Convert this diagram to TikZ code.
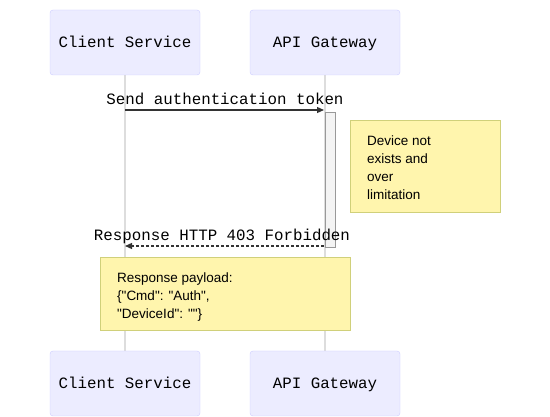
\documentclass[tikz,border=0pt]{standalone}
\usepackage{fontspec}
\setmainfont{Liberation Sans}
\setmonofont{Liberation Mono}
\usetikzlibrary{arrows.meta}
\definecolor{actfill}{HTML}{ECECFF}
\definecolor{actline}{HTML}{CCCCFF}
\definecolor{lifeline}{HTML}{DDDDDD}
\definecolor{notefill}{HTML}{FFF5AD}
\definecolor{noteline}{HTML}{D0D07A}
\definecolor{msgline}{HTML}{333333}
\definecolor{actvfill}{HTML}{F4F4F4}
\definecolor{actvline}{HTML}{999999}
\newcommand{\qq}{\textquotedbl}
\tikzset{
  actor/.style={draw=actline, fill=actfill, rounded corners=3pt, minimum width=150pt, minimum height=65pt, inner sep=0pt, text height=13pt, text depth=2pt, font=\ttfamily\fontsize{15.8}{18}\selectfont},
  note/.style={draw=noteline, fill=notefill, line width=0.8pt},
  notetext/.style={anchor=north west, align=left, inner sep=0pt, font=\fontsize{13.5}{18}\selectfont},
  life/.style={draw=lifeline, line width=1.5pt},
  msg/.style={draw=msgline, line width=1.2pt, -{Triangle[length=7pt,width=6pt]}},
  msgtext/.style={font=\ttfamily\fontsize{15.8}{18}\selectfont, inner sep=0pt},
  actv/.style={draw=actvline, fill=actvfill, line width=0.8pt}
}
\begin{document}
\begin{tikzpicture}[x=1pt,y=-1pt]
\useasboundingbox (0,0) rectangle (550,417);
% lifelines
\coordinate (c1) at (125,75);
\coordinate (c2) at (125,351);
\coordinate (g1) at (325,75);
\coordinate (g2) at (325,351);
\draw[life] (c1) -- (c2);
\draw[life] (g1) -- (g2);
% actors
\node[actor] (ct) at (125,42.5) {Client Service};
\node[actor] (gt) at (325,42.5) {API Gateway};
\node[actor] (cb) at (125,383.5) {Client Service};
\node[actor] (gb) at (325,383.5) {API Gateway};
% activation
\draw[actv] (325,112) rectangle (335,247);
\coordinate (actL1) at (324,110);
\coordinate (actL2) at (324,246);
\coordinate (cl1) at (125,110);
\coordinate (cl2) at (125,246);
% message 1
\node[msgtext] (m1) at (225,99) {Send authentication token};
\draw[msg] (cl1) -- (actL1);
% note 1
\draw[note] (350,120) rectangle (500,212);
\node[notetext] (n1) at (367,135.5) {Device not\\exists and\\over\\limitation};
% message 2
\node[msgtext] (m2) at (222,236) {Response HTTP 403 Forbidden};
\draw[msg, dashed, dash pattern=on 3pt off 2pt] (actL2) -- (cl2);
% note 2
\draw[note] (100,257) rectangle (350,330);
\node[notetext] (n2) at (117,272.5) {Response payload:\\\{\qq Cmd\qq: \qq Auth\qq,\\\qq DeviceId\qq: \qq\qq\}};
\end{tikzpicture}
\end{document}
